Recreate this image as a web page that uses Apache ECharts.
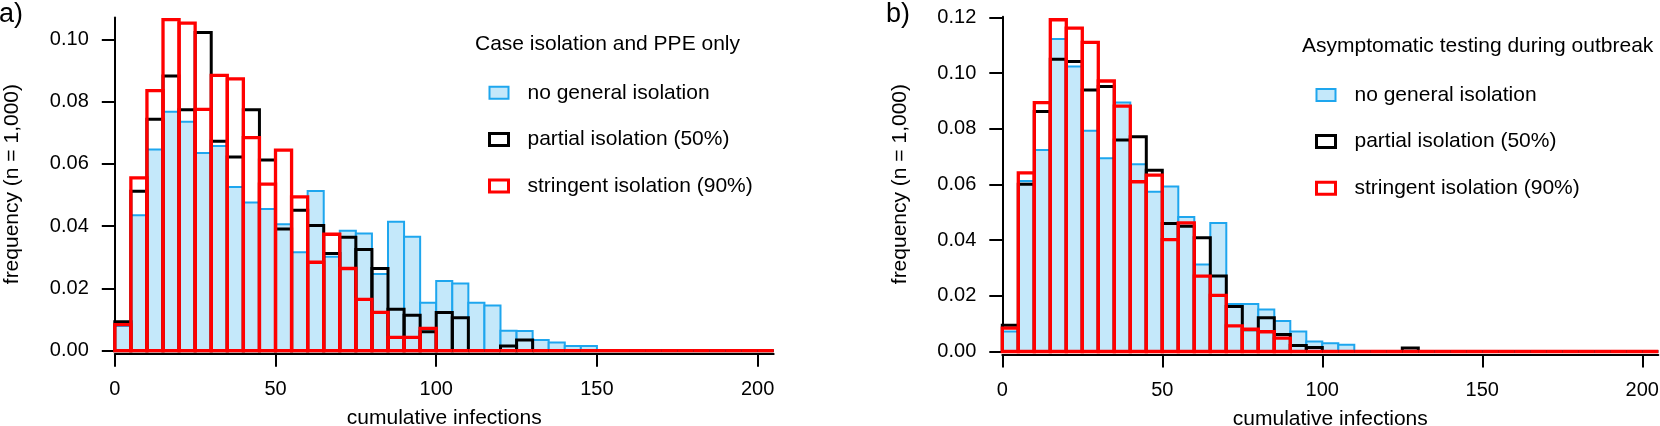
<!DOCTYPE html>
<html>
<head>
<meta charset="utf-8">
<script src="https://cdn.jsdelivr.net/npm/echarts@6/dist/echarts.min.js"></script>
<style>
html,body{margin:0;padding:0;background:#fff;}
#chart{width:1660px;height:426px;}
</style>
</head>
<body>
<div id="chart"></div>
<script>
// ---- data ----
const binStarts = [0,5,10,15,20,25,30,35,40,45,50,55,60,65,70,75,80,85,90,95,100,105,110,115,120,125,130,135,140,145,150,155,160,165,170,175,180,185,190,195,200];
const binWidth = 5;

const seriesNames = ['no general isolation', 'partial isolation (50%)', 'stringent isolation (90%)'];

// panel a: Case isolation and PPE only
const noIsoA = [0.0079,0.0435,0.0646,0.0767,0.0735,0.0635,0.0657,0.0526,0.0476,0.0455,
                0.0406,0.0316,0.0513,0.0302,0.0385,0.0376,0.0246,0.0414,0.0366,0.0154,
                0.0224,0.0216,0.0154,0.0145,0.0064,0.0063,0.0034,0.0026,0.0015,0.0015,
                0,0,0,0,0,0,0,0,0,0,0];
const partialA = [0.0093,0.0512,0.0743,0.0882,0.0774,0.1022,0.0673,0.0622,0.0774,0.0612,
                  0.0391,0.0451,0.0402,0.0312,0.0364,0.0325,0.0264,0.0133,0.0114,0.0061,
                  0.0123,0.0106,0,0,0.0015,0.0034,0,0,0,0,
                  0,0,0,0,0,0,0,0,0,0,0];
const stringentA = [0.0084,0.0555,0.0835,0.1063,0.1052,0.0775,0.0884,0.0873,0.0684,0.0535,
                    0.0644,0.0494,0.0284,0.0374,0.0264,0.0165,0.0123,0.0043,0.0043,0.0072,
                    0,0,0,0,0,0,0,0,0,0,
                    0,0,0,0,0,0,0,0,0,0,0];

// panel b: Asymptomatic testing during outbreak
const noIsoB = [0.0072,0.0613,0.0724,0.1123,0.1024,0.0793,0.0694,0.0895,0.0673,0.0574,
                0.0593,0.0483,0.0313,0.0462,0.0171,0.0171,0.0151,0.0110,0.0072,0.0036,
                0.0030,0.0024,0,0,0,0,0,0,0,0,
                0,0,0,0,0,0,0,0,0,0,0];
const partialB = [0.0094,0.0601,0.0862,0.1050,0.1042,0.0940,0.0952,0.0760,0.0772,0.0651,
                  0.0460,0.0450,0.0409,0.0271,0.0162,0.0078,0.0121,0.0061,0.0022,0.0014,
                  0,0,0,0,0,0.0013,0,0,0,0,
                  0,0,0,0,0,0,0,0,0,0,0];
const stringentB = [0.0084,0.0642,0.0894,0.1192,0.1162,0.1111,0.0972,0.0882,0.0610,0.0634,
                    0.0402,0.0462,0.0271,0.0202,0.0092,0.0080,0.0071,0.0048,0,0,
                    0,0,0,0,0,0,0,0,0,0,
                    0,0,0,0,0,0,0,0,0,0,0];

const xTicks = [0,50,100,150,200];
const yTicksA = [0,0.02,0.04,0.06,0.08,0.10];
const yTicksB = [0,0.02,0.04,0.06,0.08,0.10,0.12];

// ---- styles ----
const FONT = '"Liberation Sans", Arial, Helvetica, sans-serif';
const styles = [
  {fill:'#c4e8fa', stroke:'#1ea6ee', lw:2},
  {fill:'none', stroke:'#000000', lw:3},
  {fill:'none', stroke:'#ff0000', lw:3.3}
];

function makeRender(st){
  return function(params, api){
    const x0 = api.value(0), v = api.value(1);
    const a = api.coord([x0, v]);
    const b = api.coord([x0 + binWidth, 0]);
    return {
      type:'rect',
      shape:{x:a[0], y:a[1], width:b[0]-a[0], height:b[1]-a[1]},
      style:{fill:st.fill, stroke:st.stroke, lineWidth:st.lw}
    };
  };
}

function histSeries(vals, k, gi){
  const st = styles[k];
  return {
    type:'custom',
    name: seriesNames[k],
    xAxisIndex: gi, yAxisIndex: gi,
    renderItem: makeRender(st),
    encode:{x:0, y:1},
    itemStyle:{color: st.fill === 'none' ? '#ffffff' : st.fill, borderColor: st.stroke, borderWidth: st.lw},
    z: 2 + k,
    silent:true,
    animation:false,
    data: binStarts.map((x,i)=>[x, vals[i]])
  };
}

function xAxisCfg(gi){
  return {
    type:'value', gridIndex:gi, min:0, max:205, offset:3,
    name:'cumulative infections', nameLocation:'middle', nameGap:54.5,
    nameTextStyle:{fontSize:21, color:'#000', fontFamily:FONT},
    axisLine:{show:true, onZero:false, lineStyle:{color:'#000', width:2}},
    axisTick:{show:true, length:13, lineStyle:{color:'#000', width:2}, customValues:xTicks},
    axisLabel:{fontSize:20, color:'#000', fontFamily:FONT, margin:26, customValues:xTicks},
    splitLine:{show:false}
  };
}
function yAxisCfg(gi, max, ticks){
  return {
    type:'value', gridIndex:gi, min:0, max:max, offset:3,
    name:'frequency (n = 1,000)', nameLocation:'middle', nameGap:89,
    nameTextStyle:{fontSize:21, color:'#000', fontFamily:FONT},
    axisLine:{show:true, lineStyle:{color:'#000', width:2}},
    axisTick:{show:true, length:13, lineStyle:{color:'#000', width:2}, customValues:ticks},
    axisLabel:{fontSize:20, color:'#000', fontFamily:FONT, margin:23, customValues:ticks,
               formatter:(v)=>v.toFixed(2)},
    splitLine:{show:false}
  };
}

function legendCfg(left, top){
  return {
    left:left, top:top, orient:'vertical', padding:0,
    itemWidth:19, itemHeight:12, itemGap:25.6,
    selectedMode:false,
    textStyle:{fontSize:21, color:'#000', fontFamily:FONT, lineHeight:21, padding:[0,0,0,14]},
    data:[
      {name:seriesNames[0], icon:'rect', itemStyle:{color:'#c4e8fa', borderColor:'#1ea6ee', borderWidth:2}},
      {name:seriesNames[1], icon:'rect', itemStyle:{color:'#ffffff', borderColor:'#000000', borderWidth:3}},
      {name:seriesNames[2], icon:'rect', itemStyle:{color:'#ffffff', borderColor:'#ff0000', borderWidth:3}}
    ]
  };
}

const option = {
  backgroundColor:'#fff',
  animation:false,
  textStyle:{fontFamily:FONT},
  title:[
    {text:'a)', left:-1, top:1, padding:0, textStyle:{fontSize:27, fontWeight:'normal', color:'#000', fontFamily:FONT}},
    {text:'b)', left:886, top:1, padding:0, textStyle:{fontSize:27, fontWeight:'normal', color:'#000', fontFamily:FONT}},
    {text:'Case isolation and PPE only', left:475, top:34, padding:0, textStyle:{fontSize:21, fontWeight:'normal', color:'#000', fontFamily:FONT}},
    {text:'Asymptomatic testing during outbreak', left:1302, top:36, padding:0, textStyle:{fontSize:21, fontWeight:'normal', color:'#000', fontFamily:FONT}}
  ],
  legend:[legendCfg(488, 82.3), legendCfg(1315, 84.5)],
  grid:[
    {left:114.8, top:17.5, width:658.9, height:333.2, outerBoundsMode:'none', containLabel:false},
    {left:1002.3, top:16.7, width:656, height:334.8, outerBoundsMode:'none', containLabel:false}
  ],
  xAxis:[xAxisCfg(0), xAxisCfg(1)],
  yAxis:[yAxisCfg(0, 0.107, yTicksA), yAxisCfg(1, 0.1203, yTicksB)],
  series:[
    histSeries(noIsoA,0,0), histSeries(partialA,1,0), histSeries(stringentA,2,0),
    histSeries(noIsoB,0,1), histSeries(partialB,1,1), histSeries(stringentB,2,1)
  ]
};

const chart = echarts.init(document.getElementById('chart'), null, {renderer:'canvas'});
chart.setOption(option);
</script>
</body>
</html>
